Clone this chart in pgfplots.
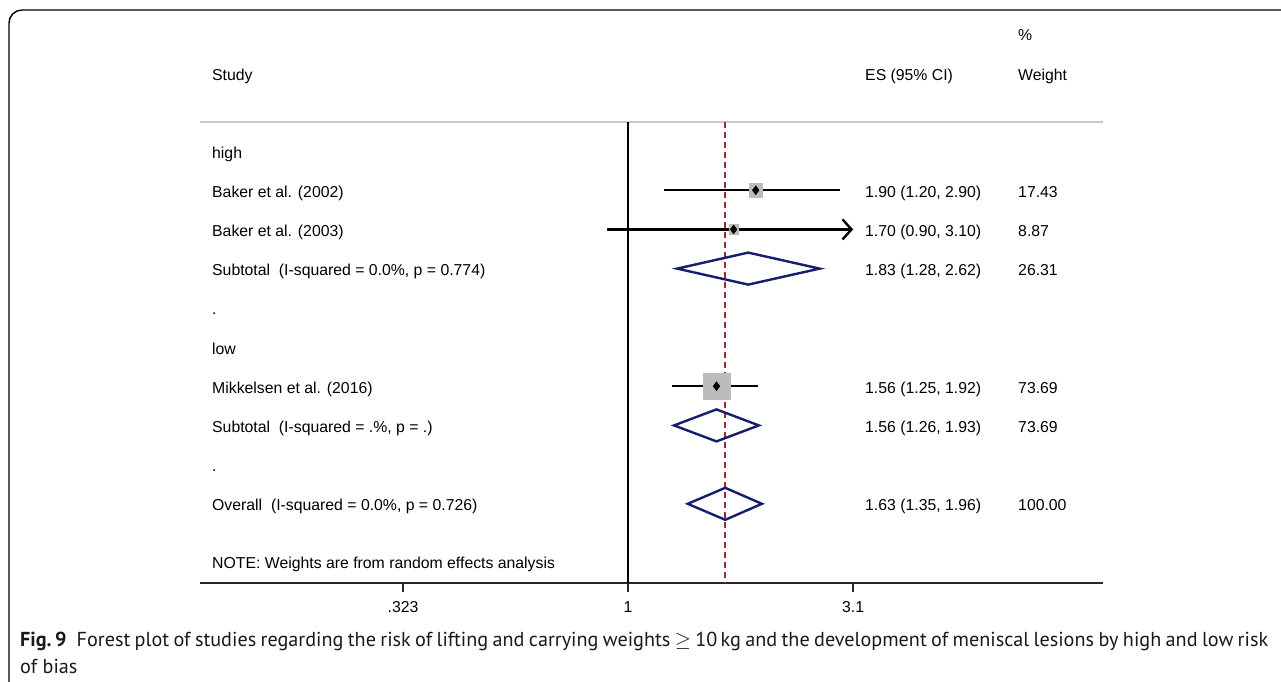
\documentclass[border=0pt]{standalone}
\usepackage{pgfplots}
\pgfplotsset{compat=1.18}
\usepackage{fontspec}
\setmainfont{Liberation Sans}
\newfontfamily\capfont{PT Sans}
\usetikzlibrary{arrows.meta}

\definecolor{stnavy}{RGB}{22,28,110}
\definecolor{stmaroon}{RGB}{160,40,52}
\definecolor{boxgray}{RGB}{188,188,188}
\definecolor{rulegray}{RGB}{200,200,200}

\newcommand{\rowfont}{\fontsize{15.8}{19}\selectfont}
\newcommand{\capsize}{\fontsize{20.2}{25}\selectfont}

\begin{document}
\begin{tikzpicture}
\useasboundingbox (0pt,0pt) rectangle (1281pt,-681pt);

% frame around the figure
\draw[line width=1.4pt, rounded corners=13pt] (1300pt,-10pt) -- (9pt,-10pt) -- (9pt,-700pt);

% rule under the column headers
\draw[rulegray, line width=1.6pt] (200pt,-122pt) -- (1103pt,-122pt);

\begin{axis}[
  at={(200pt,-583pt)}, anchor=south west,
  scale only axis, width=903pt, height=461pt,
  xmode=log, xmin=0.1164, xmax=10.88,
  ymin=-583, ymax=-122,
  axis x line*=bottom, axis y line=none,
  axis line style={line width=2.4pt, draw=black!85},
  xtick={0.323,1,3.1}, xticklabels={.323,1,3.1},
  minor xtick={},
  tick align=outside, major tick length=9pt,
  tick style={line width=1.4pt, draw=black!85},
  xticklabel style={font=\rowfont, text height=11pt, text depth=0pt, inner sep=0pt, yshift=-9pt},
  clip=false,
]
% line of no effect and pooled estimate
\addplot[black, line width=1.8pt] coordinates {(1,-122) (1,-583)};
\addplot[stmaroon, line width=1.6pt, dash pattern=on 6pt off 4pt] coordinates {(1.63,-122) (1.63,-583)};

% weight boxes (side proportional to sqrt of weight)
\addplot[only marks, mark=square*, color=boxgray, mark size={1.6*sqrt(17.43)}] coordinates {(1.90,-190.2)};
\addplot[only marks, mark=square*, color=boxgray, mark size={1.6*sqrt(8.87)}] coordinates {(1.70,-229.4)};
\addplot[only marks, mark=square*, color=boxgray, mark size={1.55*sqrt(73.69)}] coordinates {(1.56,-386.2)};

% confidence intervals
\addplot[black, line width=2.4pt] coordinates {(1.20,-190.2) (2.90,-190.2)};
\addplot[black, line width=2.4pt, -{Straight Barb[length=9pt,width=20pt,line width=2.4pt]}] coordinates {(0.90,-229.4) (3.10,-229.4)};
\addplot[black, line width=2.4pt] coordinates {(1.25,-386.2) (1.92,-386.2)};

% point estimates
\addplot[only marks, mark=diamond*, mark size=4.5pt, black] coordinates {(1.90,-190.2) (1.70,-229.4) (1.56,-386.2)};

% pooled estimates
\addplot[stnavy, line width=2.4pt, line join=miter] coordinates {(1.28,-268.6) (1.83,-252.6) (2.62,-268.6) (1.83,-284.6)} -- cycle;
\addplot[stnavy, line width=2.4pt, line join=miter] coordinates {(1.26,-425.4) (1.56,-409.4) (1.93,-425.4) (1.56,-441.4)} -- cycle;
\addplot[stnavy, line width=2.4pt, line join=miter] coordinates {(1.35,-503.8) (1.63,-487.8) (1.96,-503.8) (1.63,-519.8)} -- cycle;
\end{axis}

% column headers
\begin{scope}[every node/.style={anchor=base west, inner sep=0pt, font=\rowfont}]
\node at (212pt,-80pt) {Study};
\node at (865pt,-80pt) {ES (95\% CI)};
\node at (1018pt,-40pt) {\%};
\node at (1018pt,-80pt) {Weight};

% study labels
\node at (212pt,-158pt) {high};
\node at (212pt,-197.2pt) {Baker et al. (2002)};
\node at (212pt,-236.4pt) {Baker et al. (2003)};
\node at (212pt,-275.6pt) {Subtotal\ \ (I-squared = 0.0\%, p = 0.774)};
\node at (212pt,-314.8pt) {.};
\node at (212pt,-354pt) {low};
\node at (212pt,-393.2pt) {Mikkelsen et al. (2016)};
\node at (212pt,-432.4pt) {Subtotal\ \ (I-squared = .\%, p = .)};
\node at (212pt,-471.6pt) {.};
\node at (212pt,-510.8pt) {Overall\ \ (I-squared = 0.0\%, p = 0.726)};
\node at (212pt,-568pt) {NOTE: Weights are from random effects analysis};

% effect sizes
\node at (865pt,-197.2pt) {1.90 (1.20, 2.90)};
\node at (865pt,-236.4pt) {1.70 (0.90, 3.10)};
\node at (865pt,-275.6pt) {1.83 (1.28, 2.62)};
\node at (865pt,-393.2pt) {1.56 (1.25, 1.92)};
\node at (865pt,-432.4pt) {1.56 (1.26, 1.93)};
\node at (865pt,-510.8pt) {1.63 (1.35, 1.96)};

% weights
\node at (1018pt,-197.2pt) {17.43};
\node at (1018pt,-236.4pt) {8.87};
\node at (1018pt,-275.6pt) {26.31};
\node at (1018pt,-393.2pt) {73.69};
\node at (1018pt,-432.4pt) {73.69};
\node at (1018pt,-510.8pt) {100.00};
\end{scope}

% caption
\node[anchor=base west, inner sep=0pt, text=black!90] at (20pt,-646pt)
  {\capfont\capsize\hbox to 1248pt{\textbf{Fig.\,9}\hspace{0.5em}Forest plot of studies regarding the risk of lifting and carrying weights $\geq$ 10\,kg and the development of meniscal lesions by high and low risk}};
\node[anchor=base west, inner sep=0pt, text=black!90] at (20pt,-673pt)
  {\capfont\capsize of bias};
\end{tikzpicture}
\end{document}
